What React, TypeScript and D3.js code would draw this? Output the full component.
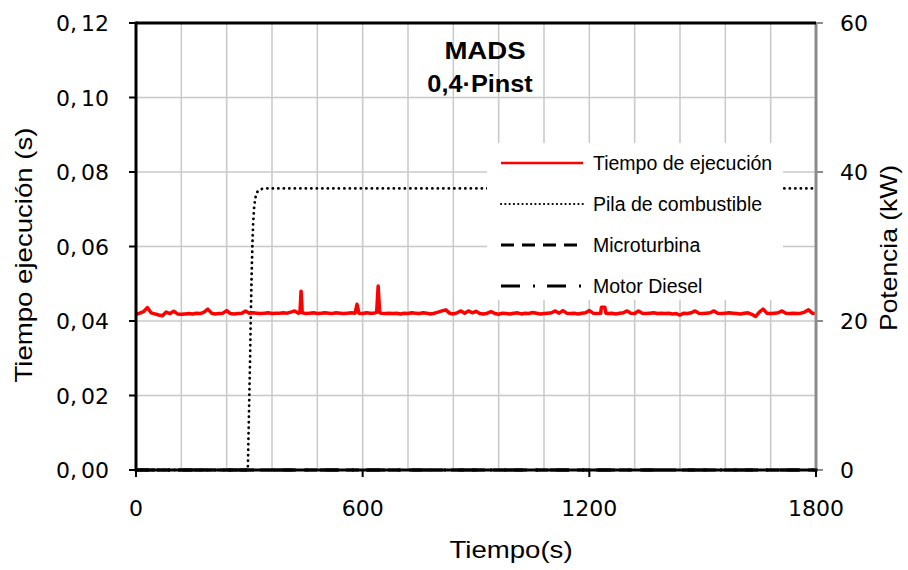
import React from 'react';
import * as d3 from 'd3';

// Tiempo de ejecución (s), one sample every 10 s plus a few narrow spikes
const execSamples: [number, number][] = [
  [0, 0.0418], [10, 0.0421], [20, 0.0425], [30, 0.0436], [40, 0.0422], [50, 0.0419],
  [60, 0.0416], [70, 0.0414], [80, 0.0424], [90, 0.042], [100, 0.0426], [110, 0.0419],
  [120, 0.0418], [130, 0.0419], [140, 0.042], [150, 0.0419], [160, 0.0421], [170, 0.042],
  [180, 0.0424], [190, 0.0432], [200, 0.0421], [210, 0.0419], [220, 0.042], [230, 0.0421],
  [240, 0.0428], [250, 0.042], [260, 0.0419], [270, 0.042], [280, 0.0421], [290, 0.0427],
  [300, 0.0421], [310, 0.0422], [320, 0.0421], [330, 0.042], [340, 0.0421], [350, 0.0422],
  [360, 0.042], [370, 0.0421], [380, 0.0421], [390, 0.0422], [400, 0.0421], [410, 0.0424],
  [420, 0.0427], [430, 0.0421], [434, 0.0423], [437, 0.048], [440, 0.0422], [450, 0.042],
  [460, 0.0421], [470, 0.0422], [480, 0.042], [490, 0.0421], [500, 0.0422], [510, 0.0421],
  [520, 0.042], [530, 0.0422], [540, 0.0421], [550, 0.042], [560, 0.0421], [570, 0.0422],
  [580, 0.0421], [585, 0.0445], [590, 0.0421], [600, 0.042], [610, 0.0422], [620, 0.0421],
  [630, 0.0421], [637, 0.0423], [641, 0.0494], [645, 0.0422], [650, 0.0421], [660, 0.042],
  [670, 0.0421], [680, 0.042], [690, 0.0421], [700, 0.0419], [710, 0.0421], [720, 0.042],
  [730, 0.0422], [740, 0.0421], [750, 0.042], [760, 0.0422], [770, 0.0421], [780, 0.0419],
  [790, 0.0421], [800, 0.0424], [810, 0.0427], [820, 0.043], [830, 0.0421], [840, 0.0419],
  [850, 0.0422], [860, 0.0427], [870, 0.0421], [880, 0.0427], [890, 0.0422], [900, 0.0426],
  [910, 0.042], [920, 0.0419], [930, 0.0421], [940, 0.0425], [950, 0.042], [960, 0.0418],
  [970, 0.0421], [980, 0.042], [990, 0.0419], [1000, 0.0421], [1010, 0.0422], [1020, 0.0419],
  [1030, 0.0421], [1040, 0.042], [1050, 0.0423], [1060, 0.0421], [1070, 0.0419], [1080, 0.042],
  [1090, 0.0421], [1100, 0.0422], [1110, 0.0427], [1120, 0.0421], [1130, 0.0428], [1140, 0.0421],
  [1150, 0.042], [1160, 0.0421], [1170, 0.0419], [1180, 0.0421], [1190, 0.0422], [1200, 0.0428],
  [1210, 0.0421], [1220, 0.042], [1230, 0.0421], [1232, 0.0437], [1241, 0.0437], [1244, 0.0421],
  [1250, 0.042], [1260, 0.0421], [1270, 0.0419], [1280, 0.0421], [1290, 0.0422], [1300, 0.0427],
  [1310, 0.0421], [1320, 0.042], [1330, 0.0427], [1340, 0.0421], [1350, 0.042], [1360, 0.0421],
  [1370, 0.0422], [1380, 0.042], [1390, 0.0421], [1400, 0.042], [1410, 0.0421], [1420, 0.0419],
  [1430, 0.042], [1440, 0.0416], [1450, 0.0421], [1460, 0.042], [1470, 0.0422], [1480, 0.0427],
  [1490, 0.0421], [1500, 0.042], [1510, 0.0421], [1520, 0.0422], [1530, 0.0427], [1540, 0.0421],
  [1550, 0.042], [1560, 0.0421], [1570, 0.0422], [1580, 0.0421], [1590, 0.042], [1600, 0.0419],
  [1610, 0.0421], [1620, 0.0422], [1630, 0.0418], [1640, 0.0412], [1650, 0.0424], [1660, 0.0432],
  [1670, 0.0421], [1680, 0.042], [1690, 0.0421], [1700, 0.0422], [1710, 0.0427], [1720, 0.0421],
  [1730, 0.042], [1740, 0.0421], [1750, 0.042], [1760, 0.0421], [1770, 0.0424], [1780, 0.043],
  [1790, 0.0421], [1800, 0.042],
];

// Potencia (kW)
const pilaSamples: [number, number][] = [
  [0, 0], [296, 0], [298, 5], [300, 10], [302, 15], [304, 21], [306, 26], [308, 30],
  [310, 33], [313, 35.5], [317, 36.8], [322, 37.4], [330, 37.7], [345, 37.8], [1800, 37.8],
];
const microSamples: [number, number][] = [[0, 0], [1800, 0]];
const dieselSamples: [number, number][] = [[0, 0], [1800, 0]];

const leftTicks = [0, 0.02, 0.04, 0.06, 0.08, 0.1, 0.12];
const rightTicks = [0, 20, 40, 60];
const bottomTicks = [0, 600, 1200, 1800];
const xGrid = [120, 240, 360, 480, 600, 720, 840, 960, 1080, 1200, 1320, 1440, 1560, 1680];

const legendItems = [
  { label: 'Tiempo de ejecución', color: '#ff0000', dash: '', width: 2.5, cap: 'butt' },
  { label: 'Pila de combustible', color: '#000', dash: '0.1 4.2', width: 2.2, cap: 'round' },
  { label: 'Microturbina', color: '#000', dash: '13 8', width: 3, cap: 'butt' },
  { label: 'Motor Diesel', color: '#000', dash: '19 13 2 12', width: 3, cap: 'butt' },
];

const W = 908;
const H = 570;
const left = 136;
const right = 816;
const top = 23;
const bottom = 470;

export default function App() {
  const x = d3.scaleLinear().domain([0, 1800]).range([left, right]);
  const yL = d3.scaleLinear().domain([0, 0.12]).range([bottom, top]);
  const yR = d3.scaleLinear().domain([0, 60]).range([bottom, top]);

  const lineL = d3.line<[number, number]>().x(d => x(d[0])).y(d => yL(d[1]));
  const lineR = d3.line<[number, number]>().x(d => x(d[0])).y(d => yR(d[1]));
  const fmt = (v: number) => d3.format('.2f')(v).split('.');

  const tickFont = '"DejaVu Sans", sans-serif';
  const textFont = '"Liberation Sans", Arial, sans-serif';

  return (
    <svg
      width={W}
      height={H}
      style={{ position: 'absolute', left: 0, top: 0, background: '#fff' }}
    >
      {/* grid */}
      <g stroke="#c8c8c8" strokeWidth={1.5}>
        {xGrid.map(t => (
          <line key={t} x1={x(t)} x2={x(t)} y1={top} y2={bottom} />
        ))}
        {leftTicks.slice(1, -1).map(v => (
          <line key={v} x1={left} x2={right} y1={yL(v)} y2={yL(v)} />
        ))}
      </g>

      {/* series */}
      <path d={lineR(pilaSamples) || ''} fill="none" stroke="#000" strokeWidth={2.8}
        strokeDasharray="0.1 5.4" strokeLinecap="round" />
      <path d={lineR(microSamples) || ''} fill="none" stroke="#000" strokeWidth={3}
        strokeDasharray="13 8" />
      <path d={lineR(dieselSamples) || ''} fill="none" stroke="#000" strokeWidth={3}
        strokeDasharray="19 13 2 12" />
      <path d={lineL(execSamples) || ''} fill="none" stroke="#ff0000" strokeWidth={3.5}
        strokeLinejoin="round" />

      {/* legend */}
      <rect x={487} y={143} width={296} height={157} fill="#fff" />
      {legendItems.map((it, i) => {
        const ly = 163 + i * 41;
        return (
          <g key={it.label}>
            <line x1={501} x2={583} y1={ly} y2={ly} stroke={it.color} strokeWidth={it.width}
              strokeDasharray={it.dash || undefined} strokeLinecap={it.cap as any} />
            <text x={593} y={ly + 7} fontFamily={textFont} fontSize={19.5} fill="#000">
              {it.label}
            </text>
          </g>
        );
      })}

      {/* axes frame */}
      <line x1={right} x2={right} y1={top} y2={bottom + 1.5} stroke="#8c8c8c" strokeWidth={3} />
      {rightTicks.map(v => (
        <line key={v} x1={right} x2={right + 7} y1={yR(v)} y2={yR(v)} stroke="#8c8c8c" strokeWidth={2} />
      ))}
      <line x1={left} x2={right} y1={top} y2={top} stroke="#000" strokeWidth={3} />
      <line x1={left} x2={right + 1.5} y1={bottom} y2={bottom} stroke="#000" strokeWidth={3} />
      <line x1={left} x2={left} y1={top - 1.5} y2={bottom + 1.5} stroke="#000" strokeWidth={3} />
      {leftTicks.map(v => (
        <line key={v} x1={left - 7} x2={left} y1={yL(v)} y2={yL(v)} stroke="#000" strokeWidth={2} />
      ))}
      {bottomTicks.map(t => (
        <line key={t} x1={x(t)} x2={x(t)} y1={bottom} y2={bottom + 7} stroke="#000" strokeWidth={2} />
      ))}

      {/* tick labels */}
      {leftTicks.map(v => {
        const [a, b] = fmt(v);
        return (
          <text key={v} x={109} y={yL(v) + 8} textAnchor="end" fontFamily={tickFont}
            fontSize={22} fill="#000">
            {a},<tspan dx={4}>{b}</tspan>
          </text>
        );
      })}
      {rightTicks.map(v => (
        <text key={v} x={840} y={yR(v) + 8} fontFamily={tickFont} fontSize={22} fill="#000">
          {v}
        </text>
      ))}
      {bottomTicks.map(t => (
        <text key={t} x={x(t)} y={516} textAnchor="middle" fontFamily={tickFont}
          fontSize={22} fill="#000">
          {t}
        </text>
      ))}

      {/* axis titles */}
      <text transform="translate(32,255) rotate(-90) scale(1.2,1)" textAnchor="middle"
        fontFamily={textFont} fontSize={23} fill="#000">
        Tiempo ejecución (s)
      </text>
      <text transform="translate(897,248) rotate(-90) scale(1.15,1)" textAnchor="middle"
        fontFamily={textFont} fontSize={23} fill="#000">
        Potencia (kW)
      </text>
      <text transform="translate(511,558) scale(1.2,1)" textAnchor="middle"
        fontFamily={textFont} fontSize={23} fill="#000">
        Tiempo(s)
      </text>

      {/* title */}
      <text transform="translate(485,59) scale(1.2,1)" textAnchor="middle"
        fontFamily={textFont} fontSize={23} fontWeight="bold" fill="#000">
        MADS
      </text>
      <text transform="translate(480,92) scale(1.1,1)" textAnchor="middle"
        fontFamily={textFont} fontSize={23} fontWeight="bold" fill="#000">
        0,4·Pinst
      </text>
    </svg>
  );
}
